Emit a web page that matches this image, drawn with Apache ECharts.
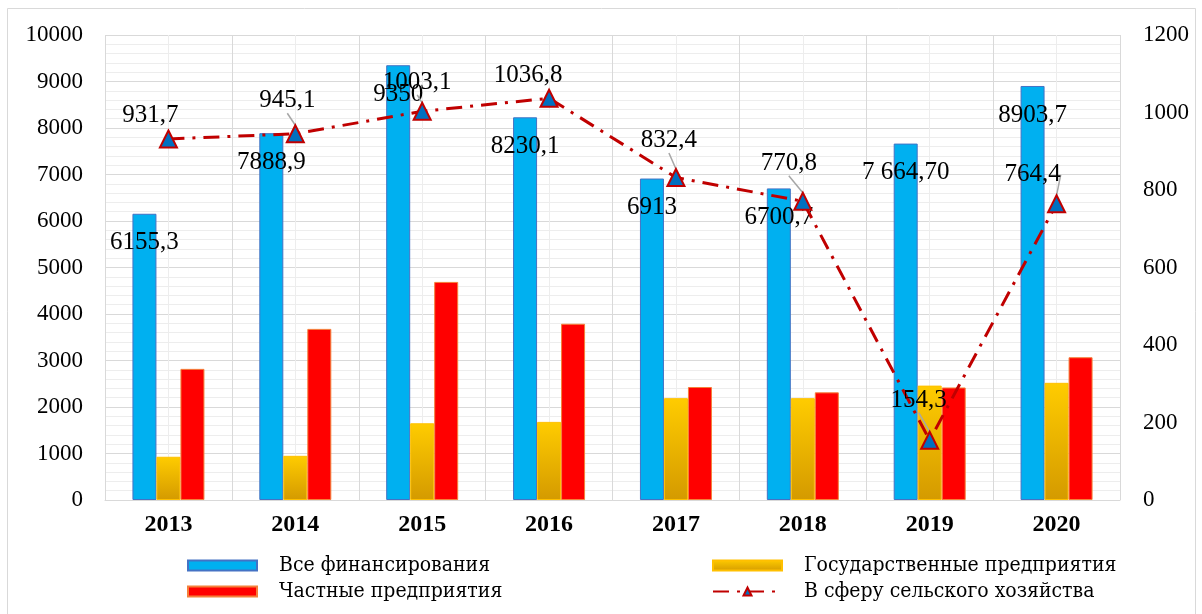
<!DOCTYPE html>
<html>
<head>
<meta charset="utf-8">
<script src="https://cdn.jsdelivr.net/npm/echarts@6/dist/echarts.min.js"></script>
<style>
html,body{margin:0;padding:0;background:#fff;}
#chart{width:1202px;height:614px;}
</style>
</head>
<body>
<div id="chart"></div>
<script>
// ---- data ----
const years = ['2013', '2014', '2015', '2016', '2017', '2018', '2019', '2020'];
const allFunding = [6155.3, 7888.9, 9350, 8230.1, 6913, 6700.7, 7664.7, 8903.7];
const stateEnterprises = [930, 950, 1650, 1680, 2190, 2190, 2460, 2520];
const privateEnterprises = [2820, 3680, 4690, 3790, 2430, 2315, 2420, 3070];
const agriculture = [931.7, 945.1, 1003.1, 1036.8, 832.4, 770.8, 154.3, 764.4];
const allFundingLabels = ['6155,3', '7888,9', '9350', '8230,1', '6913', '6700,7', '7 664,70', '8903,7'];
const agricultureLabels = ['931,7', '945,1', '1003,1', '1036,8', '832,4', '770,8', '154,3', '764,4'];
const seriesNames = ['Все финансирования', 'Государственные предприятия', 'Частные предприятия', 'В сферу сельского хозяйства'];

// ---- layout (label placement, not data) ----
const agriLabelShift = [[-18, -24], [-8, -33], [-5, -29], [-21, -23], [-7, -37], [-14, -38], [-11, -40], [-24, -29]];
const agriGuide = [false, true, true, false, true, true, true, true];
const legendPos = [[187, 555], [712, 555], [187, 581], [712, 581]];
const legendIcons = ['rect', 'rect', 'rect', null];

const FONT = 'Liberation Serif';
const LEGEND_FONT = '"DejaVu Serif Condensed", "DejaVu Serif", serif';
const chart = echarts.init(document.getElementById('chart'));

const legends = seriesNames.map((n, i) => {
  const l = {
    orient: 'horizontal', left: legendPos[i][0], top: legendPos[i][1], padding: 0,
    data: [n],
    itemWidth: 69, itemHeight: 10,
    formatter: '{t|{name}}',
    textStyle: {
      fontFamily: LEGEND_FONT, fontSize: 21, color: '#000',
      rich: { t: { fontFamily: LEGEND_FONT, fontSize: 21, color: '#000', lineHeight: 26, padding: [0, 0, 0, 17] } }
    }
  };
  if (legendIcons[i]) l.icon = legendIcons[i];
  return l;
});

const option = {
  animation: false,
  backgroundColor: '#fff',
  textStyle: { fontFamily: FONT },
  graphic: [{
    type: 'rect', z: -10,
    shape: { x: 7.5, y: 8.5, width: 1188, height: 640 },
    style: { fill: 'none', stroke: '#D9D9D9', lineWidth: 1 }
  }],
  grid: { left: 105, right: 82, top: 35, bottom: 114 },
  legend: legends,
  xAxis: [{
    type: 'category', data: years,
    axisTick: { show: false },
    axisLine: { show: true, lineStyle: { color: '#D9D9D9', width: 1 } },
    axisLabel: { fontFamily: FONT, fontSize: 24, fontWeight: 'bold', color: '#000', margin: 13 },
    splitLine: { show: false }
  }, {
    type: 'value', min: 0, max: 8, interval: 1,
    axisLabel: { show: false }, axisLine: { show: false }, axisTick: { show: false },
    splitLine: { show: true, lineStyle: { color: '#D9D9D9', width: 1 } },
    minorTick: { show: false, splitNumber: 2 },
    minorSplitLine: { show: true, lineStyle: { color: '#EDEDED', width: 1 } }
  }],
  yAxis: [{
    type: 'value', min: 0, max: 10000, interval: 1000,
    axisLine: { show: false }, axisTick: { show: false },
    axisLabel: { fontFamily: FONT, fontSize: 23, color: '#000', margin: 22, formatter: v => String(v) },
    splitLine: { show: true, lineStyle: { color: '#D9D9D9', width: 1 } },
    minorTick: { show: false, splitNumber: 5 },
    minorSplitLine: { show: true, lineStyle: { color: '#EDEDED', width: 1 } }
  }, {
    type: 'value', min: 0, max: 1200, interval: 200, position: 'right',
    axisLine: { show: false }, axisTick: { show: false },
    axisLabel: { fontFamily: FONT, fontSize: 23, color: '#000', margin: 23, formatter: v => String(v) },
    splitLine: { show: false }
  }],
  series: [{
    name: seriesNames[0], type: 'bar', barWidth: 24, barGap: '0%',
    data: allFunding,
    itemStyle: { color: '#00B0F0', borderColor: '#4472C4', borderWidth: 1 },
    label: {
      show: true, position: ['50%', 0], offset: [0, 29], align: 'center', verticalAlign: 'middle',
      fontFamily: FONT, fontSize: 25, color: '#000',
      formatter: p => allFundingLabels[p.dataIndex]
    },
    z: 2
  }, {
    name: seriesNames[1], type: 'bar', barWidth: 24, barGap: '0%',
    data: stateEnterprises,
    itemStyle: {
      color: new echarts.graphic.LinearGradient(0, 0, 0, 1, [
        { offset: 0, color: '#FFCC00' }, { offset: 1, color: '#D49A00' }
      ]),
      borderColor: '#FFC000', borderWidth: 1
    },
    z: 2
  }, {
    name: seriesNames[2], type: 'bar', barWidth: 24, barGap: '0%',
    data: privateEnterprises,
    itemStyle: { color: '#FF0000', borderColor: '#F4803A', borderWidth: 1 },
    z: 2
  }, {
    name: seriesNames[3], type: 'line', yAxisIndex: 1,
    data: agriculture.map((v, i) => ({ value: v, labelLine: { show: agriGuide[i] } })),
    symbol: 'triangle', symbolSize: 17,
    itemStyle: { color: '#0070C0', borderColor: '#C00000', borderWidth: 2 },
    lineStyle: { color: '#C00000', width: 3, type: [16, 8, 3, 8] },
    label: {
      show: true, position: 'inside', align: 'center', verticalAlign: 'middle',
      fontFamily: FONT, fontSize: 25, color: '#000',
      formatter: p => agricultureLabels[p.dataIndex]
    },
    labelLayout: p => ({ dx: agriLabelShift[p.dataIndex][0], dy: agriLabelShift[p.dataIndex][1] }),
    labelLine: { show: true, lineStyle: { color: '#A6A6A6', width: 1.5 } },
    z: 5
  }]
};
chart.setOption(option);
</script>
</body>
</html>
